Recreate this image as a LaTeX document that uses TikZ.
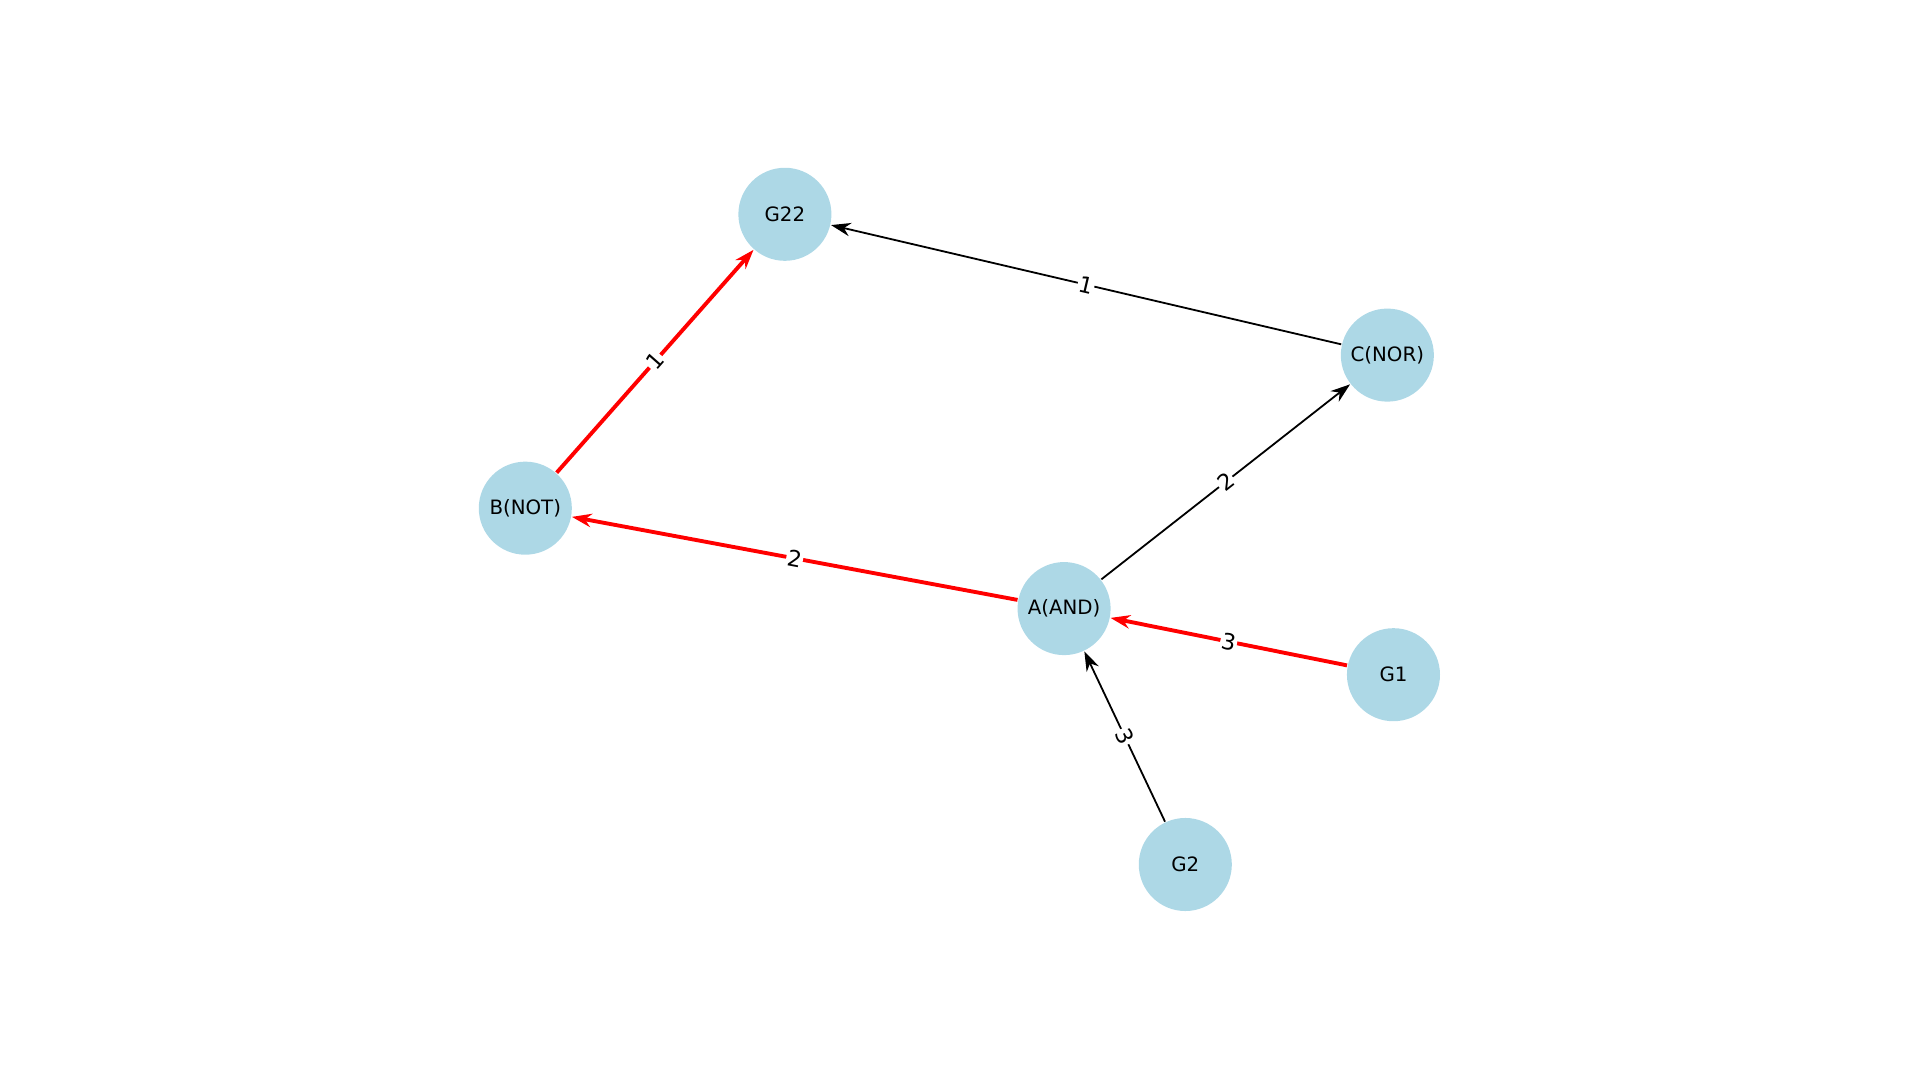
\documentclass[tikz,border=0pt]{standalone}
\usepackage{fontspec}
\setmainfont{DejaVu Sans}
\usetikzlibrary{arrows.meta}
\begin{document}
\begin{tikzpicture}[x=0.1mm,y=-0.1mm,
  vert/.style={circle,fill=cyan!25!blue!15!white,fill={rgb,255:red,173;green,216;blue,230},minimum size=7.6mm,inner sep=0pt,font=\fontsize{4.6}{5}\selectfont},
  blk/.style={draw=black,line width=0.42pt,-{Stealth[length=1.6mm,width=1.1mm]}},
  redd/.style={draw=red,line width=0.9pt,-{Stealth[length=1.6mm,width=1.1mm]}},
  lab/.style={fill=white,inner sep=0.3pt,font=\fontsize{5.2}{6}\selectfont,sloped}]
\useasboundingbox (0,0) rectangle (1568,882);
\node[vert] (G22) at (641,175) {G22};
\node[vert] (C) at (1133,290) {C(NOR)};
\node[vert] (B) at (429,415) {B(NOT)};
\node[vert] (A) at (869,497) {A(AND)};
\node[vert] (G1) at (1138,551) {G1};
\node[vert] (G2) at (968,706) {G2};
\draw[blk] (C) -- node[lab]{1} (G22);
\draw[blk] (A) -- node[lab]{2} (C);
\draw[redd] (A) -- node[lab]{2} (B);
\draw[redd] (B) -- node[lab]{1} (G22);
\draw[redd] (G1) -- node[lab]{3} (A);
\draw[blk] (G2) -- node[lab]{3} (A);
\end{tikzpicture}
\end{document}
